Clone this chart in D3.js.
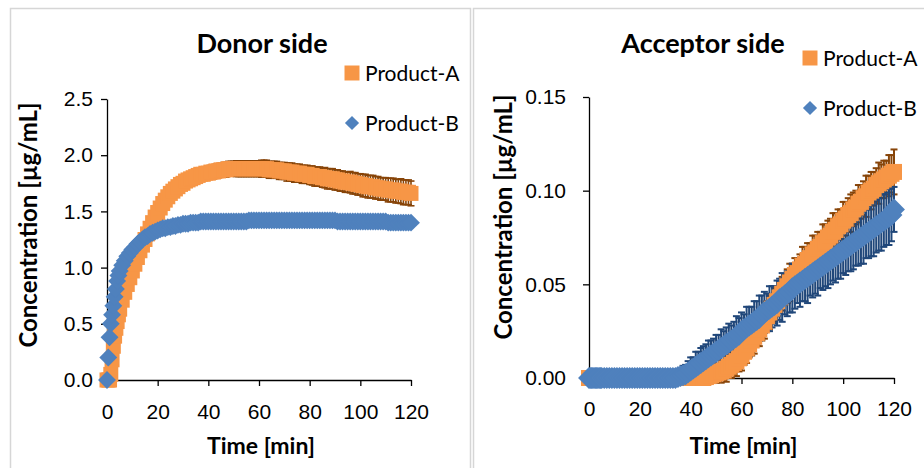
<!DOCTYPE html>
<html>
<head>
<meta charset="utf-8">
<script src="https://cdn.jsdelivr.net/npm/d3@7"></script>
<style>
body{margin:0;background:#fff;}
svg{font-family:Lato,"DejaVu Sans",sans-serif;display:block;}
.tick text{font-size:21px;fill:#000;}
.tick line,.domain{stroke:#000;stroke-width:1.3;}
</style>
</head>
<body>
<div class="c_chart"></div>
<script>

/*DATA
------------------------------------------------------
*/
const times = [0,0.5,1,1.5,2,2.5,3,3.5,4,4.5,5,
	6,7,8,9,10,11,12,13,14,15,
	16,17,18,19,20,21,22,23,24,25,
	26,27,28,29,30,31,32,33,34,35,
	36,37,38,39,40,41,42,43,44,45,
	46,47,48,49,50,51,52,53,54,55,
	56,57,58,59,60,61,62,63,64,65,
	66,67,68,69,70,71,72,73,74,75,
	76,77,78,79,80,81,82,83,84,85,
	86,87,88,89,90,91,92,93,94,95,
	96,97,98,99,100,101,102,103,104,105,
	106,107,108,109,110,111,112,113,114,115,
	116,117,118,119,120];

const seriesNames = ["Product-A","Product-B"];
const timeTicks = [0,20,40,60,80,100,120];
const donorTicks = [0,0.5,1,1.5,2,2.5];
const acceptorTicks = [0,0.05,0.1,0.15];

//Donor side, Product-A
const donorA = [0,0,0,0.05,0.18,0.30,0.39,0.46,0.52,0.58,0.63,
	0.71,0.78,0.85,0.91,0.97,1.03,1.09,1.15,1.20,1.25,
	1.30,1.35,1.40,1.45,1.49,1.53,1.57,1.60,1.63,1.66,
	1.68,1.70,1.72,1.74,1.75,1.77,1.78,1.79,1.80,1.81,
	1.82,1.83,1.83,1.84,1.84,1.85,1.85,1.86,1.86,1.87,
	1.87,1.87,1.88,1.88,1.88,1.88,1.88,1.88,1.88,1.88,
	1.88,1.88,1.88,1.88,1.88,1.88,1.88,1.88,1.87,1.87,
	1.87,1.87,1.86,1.86,1.86,1.85,1.85,1.85,1.84,1.84,
	1.84,1.83,1.83,1.83,1.82,1.82,1.81,1.81,1.81,1.80,
	1.80,1.79,1.79,1.79,1.78,1.78,1.77,1.77,1.76,1.76,
	1.76,1.75,1.75,1.74,1.74,1.73,1.73,1.72,1.72,1.72,
	1.71,1.71,1.70,1.70,1.70,1.69,1.69,1.69,1.68,1.68,
	1.68,1.67,1.67,1.67,1.66];
const donorAErr = [0.02,0.02,0.02,0.02,0.02,0.02,0.02,0.02,0.02,0.02,0.02,
	0.03,0.03,0.03,0.03,0.03,0.03,0.03,0.03,0.03,0.03,
	0.03,0.03,0.03,0.03,0.03,0.04,0.04,0.04,0.04,0.04,
	0.045,0.045,0.045,0.045,0.045,0.05,0.05,0.05,0.05,0.05,
	0.055,0.055,0.055,0.055,0.055,0.06,0.06,0.06,0.06,0.06,
	0.065,0.065,0.065,0.065,0.065,0.07,0.07,0.07,0.07,0.07,
	0.07,0.07,0.07,0.07,0.07,0.075,0.075,0.075,0.075,0.075,
	0.075,0.075,0.075,0.075,0.075,0.08,0.08,0.08,0.08,0.08,
	0.08,0.08,0.08,0.08,0.08,0.085,0.085,0.085,0.085,0.085,
	0.09,0.09,0.09,0.09,0.09,0.09,0.09,0.09,0.09,0.09,
	0.095,0.095,0.095,0.095,0.095,0.1,0.1,0.1,0.1,0.1,
	0.1,0.1,0.1,0.1,0.1,0.105,0.105,0.105,0.105,0.105,
	0.11,0.11,0.11,0.11,0.11];

//Donor side, Product-B
const donorB = [0,0.20,0.38,0.50,0.58,0.66,0.74,0.81,0.88,0.93,0.97,
	1.02,1.06,1.10,1.13,1.16,1.18,1.21,1.23,1.25,1.27,
	1.28,1.30,1.31,1.32,1.33,1.34,1.35,1.35,1.36,1.36,
	1.37,1.37,1.38,1.38,1.39,1.39,1.39,1.40,1.40,1.40,
	1.40,1.41,1.41,1.41,1.41,1.41,1.41,1.41,1.41,1.41,
	1.41,1.41,1.41,1.41,1.41,1.41,1.41,1.41,1.41,1.41,
	1.42,1.42,1.42,1.42,1.42,1.42,1.42,1.42,1.42,1.42,
	1.42,1.42,1.42,1.42,1.42,1.42,1.42,1.42,1.42,1.42,
	1.42,1.42,1.42,1.42,1.42,1.42,1.42,1.42,1.42,1.42,
	1.42,1.42,1.42,1.42,1.42,1.41,1.41,1.41,1.41,1.41,
	1.41,1.41,1.41,1.41,1.41,1.41,1.41,1.41,1.41,1.41,
	1.41,1.41,1.41,1.41,1.41,1.40,1.40,1.40,1.40,1.40,
	1.40,1.40,1.40,1.40,1.40];
const donorBErr = [0.03,0.03,0.03,0.03,0.03,0.03,0.03,0.03,0.03,0.03,0.03,
	0.03,0.03,0.03,0.03,0.03,0.03,0.03,0.03,0.03,0.03,
	0.03,0.03,0.03,0.03,0.03,0.03,0.03,0.03,0.03,0.03,
	0.03,0.03,0.03,0.03,0.03,0.03,0.03,0.03,0.03,0.03,
	0.02,0.02,0.02,0.02,0.02,0.02,0.02,0.02,0.02,0.02,
	0.02,0.02,0.02,0.02,0.02,0.02,0.02,0.02,0.02,0.02,
	0.02,0.02,0.02,0.02,0.02,0.02,0.02,0.02,0.02,0.02,
	0.02,0.02,0.02,0.02,0.02,0.02,0.02,0.02,0.02,0.02,
	0.02,0.02,0.02,0.02,0.02,0.02,0.02,0.02,0.02,0.02,
	0.02,0.02,0.02,0.02,0.02,0.02,0.02,0.02,0.02,0.02,
	0.02,0.02,0.02,0.02,0.02,0.02,0.02,0.02,0.02,0.02,
	0.02,0.02,0.02,0.02,0.02,0.02,0.02,0.02,0.02,0.02,
	0.02,0.02,0.02,0.02,0.02];

//Acceptor side, Product-A
const acceptorA = [0,0,0,0,0,0,0,0,0,0,0,
	0,0,0,0,0,0,0,0,0,0,
	0,0,0,0,0,0,0,0,0,0,
	0,0,0,0,0,0,0,0,0,0,
	0,0,0,0,0,0,0,0,0,0,
	0.0005,0.001,0.0015,0.002,0.0025,0.003,0.0035,0.004,0.005,0.006,
	0.007,0.008,0.009,0.0105,0.012,0.014,0.016,0.018,0.020,0.022,
	0.024,0.026,0.028,0.030,0.033,0.035,0.037,0.039,0.041,0.043,
	0.045,0.047,0.049,0.051,0.053,0.055,0.056,0.058,0.060,0.061,
	0.063,0.064,0.066,0.067,0.069,0.070,0.072,0.073,0.075,0.076,
	0.078,0.079,0.081,0.082,0.084,0.085,0.087,0.088,0.090,0.091,
	0.093,0.094,0.096,0.097,0.099,0.100,0.101,0.103,0.104,0.105,
	0.106,0.107,0.108,0.109,0.110];
const acceptorAErr = [0,0,0,0,0,0,0,0,0,0,0,
	0,0,0,0,0,0,0,0,0,0,
	0,0,0,0,0,0,0,0,0,0,
	0,0,0,0,0,0,0,0,0,0,
	0,0,0,0,0,0,0,0,0,0,
	0.003,0.003,0.004,0.004,0.005,0.004,0.006,0.005,0.007,0.006,
	0.007,0.006,0.008,0.007,0.008,0.007,0.008,0.007,0.008,0.009,
	0.007,0.009,0.008,0.009,0.008,0.009,0.007,0.009,0.008,0.008,
	0.009,0.008,0.009,0.010,0.008,0.009,0.008,0.008,0.010,0.009,
	0.009,0.008,0.010,0.009,0.009,0.008,0.010,0.009,0.009,0.009,
	0.010,0.009,0.009,0.008,0.010,0.009,0.009,0.010,0.009,0.009,
	0.010,0.009,0.009,0.011,0.009,0.010,0.009,0.009,0.011,0.009,
	0.010,0.009,0.011,0.010,0.012];

//Acceptor side, Product-B
const acceptorB = [0,0,0,0,0,0,0,0,0,0,0,
	0,0,0,0,0,0,0,0,0,0,
	0,0,0,0,0,0,0,0,0,0,
	0,0,0,0,0,0,0,0,0,
	0.0005,0.001,0.0015,0.002,0.003,0.004,0.005,0.006,0.007,0.008,
	0.009,0.010,0.011,0.012,0.013,0.014,0.015,0.016,0.017,0.018,
	0.019,0.020,0.021,0.022,0.023,0.025,0.026,0.027,0.028,0.029,
	0.030,0.031,0.032,0.034,0.035,0.036,0.037,0.038,0.039,0.040,
	0.042,0.043,0.044,0.045,0.046,0.048,0.049,0.050,0.051,0.052,
	0.053,0.054,0.055,0.056,0.057,0.058,0.059,0.060,0.061,0.062,
	0.063,0.064,0.065,0.066,0.067,0.068,0.069,0.070,0.071,0.072,
	0.073,0.074,0.075,0.076,0.077,0.078,0.079,0.080,0.081,0.082,
	0.083,0.084,0.085,0.086,0.087,0.090];
const acceptorBErr = [0,0,0,0,0,0,0,0,0,0,0,
	0,0,0,0,0,0,0,0,0,0,
	0,0,0,0,0,0,0,0,0,0,
	0,0,0,0,0,0,0,0,0,
	0.004,0.004,0.005,0.005,0.006,0.007,0.006,0.008,0.007,0.008,
	0.008,0.008,0.009,0.008,0.008,0.009,0.008,0.010,0.008,0.009,
	0.010,0.008,0.009,0.011,0.009,0.010,0.008,0.011,0.010,0.009,
	0.011,0.010,0.012,0.010,0.011,0.009,0.012,0.011,0.010,0.012,
	0.011,0.013,0.010,0.012,0.011,0.013,0.012,0.010,0.013,0.011,
	0.012,0.014,0.011,0.013,0.012,0.014,0.011,0.013,0.012,0.014,
	0.013,0.012,0.014,0.013,0.014,0.012,0.014,0.013,0.014,0.014,
	0.013,0.014,0.014,0.015,0.013,0.014,0.014,0.015,0.014,0.014,
	0.015,0.014,0.014,0.015,0.014,0.012];


/*SVG
------------------------------------------------------
*/
const width = 924;
const height = 468;

const colA = "#F79646", colAErr = "#874408";
const colB = "#4F81BD", colBErr = "#20477A";

let svg = d3.select(".c_chart")
	.append("svg")
	.attr("width", width)
	.attr("height", height);

//cadres gris des deux graphiques
svg.append("rect")
	.attr("x", 10.5).attr("y", 8.5)
	.attr("width", 460).attr("height", 480)
	.attr("fill", "none").attr("stroke", "#d6d6d6").attr("stroke-width", 1.5);
svg.append("rect")
	.attr("x", 473.5).attr("y", 8.5)
	.attr("width", 470).attr("height", 480)
	.attr("fill", "none").attr("stroke", "#d6d6d6").attr("stroke-width", 1.5);


/*PANEL
------------------------------------------------------
*/
function drawPanel(p){
	let g = svg.append("g");

	let x = d3.scaleLinear().domain([0, 120]).range([p.x0, p.x1]);
	let y = d3.scaleLinear().domain([0, p.yMax]).range([p.yBottom, p.yTop]);

	let squareSym = d3.symbol().type(d3.symbolSquare).size(p.sqSize);
	let diamondSym = d3.symbol().type(d3.symbolSquare).size(p.diaSize);

	//axes
	g.append("g")
		.attr("transform", `translate(0,${p.yBottom})`)
		.call(d3.axisBottom(x).tickValues(timeTicks).tickSize(6).tickSizeOuter(0).tickPadding(p.xPad));
	g.append("g")
		.attr("transform", `translate(${p.x0},0)`)
		.call(d3.axisLeft(y).tickValues(p.yTicks).tickFormat(d3.format(p.fmt)).tickSize(6).tickSizeOuter(0).tickPadding(p.yPad));

	//barres d'erreur : toutes d'abord, puis les marqueurs
	p.series.forEach(s => {
		let eb = g.append("g").attr("stroke", s.errCol).attr("stroke-width", p.errW);
		times.forEach((t, i) => {
			let e = s.err[i];
			if (!e) return;
			let cx = x(t), y1 = y(s.values[i] - e), y2 = y(s.values[i] + e);
			eb.append("line").attr("x1", cx).attr("x2", cx).attr("y1", y1).attr("y2", y2);
			eb.append("line").attr("x1", cx - 3.5).attr("x2", cx + 3.5).attr("y1", y1).attr("y2", y1);
			eb.append("line").attr("x1", cx - 3.5).attr("x2", cx + 3.5).attr("y1", y2).attr("y2", y2);
		});
	});

	p.series.forEach(s => {
		g.append("g").selectAll("path")
			.data(times)
			.enter()
			.append("path")
			.attr("d", s.diamond ? diamondSym : squareSym)
			.attr("transform", (t, i) => `translate(${x(t)},${y(s.values[i])})` + (s.diamond ? " rotate(45)" : ""))
			.attr("fill", s.col);
	});

	//titres
	g.append("text")
		.attr("x", p.titleX).attr("y", 53)
		.attr("text-anchor", "middle")
		.attr("font-size", 27).attr("font-weight", "bold")
		.text(p.title);
	g.append("text")
		.attr("x", (p.x0 + p.x1) / 2 + 2).attr("y", 454)
		.attr("text-anchor", "middle")
		.attr("font-size", 23).attr("font-weight", "bold")
		.text("Time [min]");
	g.append("text")
		.attr("transform", `translate(${p.labelX},${p.labelY}) rotate(-90)`)
		.attr("text-anchor", "middle")
		.attr("font-size", 24).attr("font-weight", "bold")
		.text("Concentration [µg/mL]");

	//légende
	let lg = g.append("g");
	lg.append("path")
		.attr("d", d3.symbol().type(d3.symbolSquare).size(225))
		.attr("transform", `translate(${p.legX},${p.legY})`)
		.attr("fill", colA);
	lg.append("path")
		.attr("d", d3.symbol().type(d3.symbolSquare).size(100))
		.attr("transform", `translate(${p.legX},${p.legY + 50}) rotate(45)`)
		.attr("fill", colB);
	seriesNames.forEach((n, i) => {
		lg.append("text")
			.attr("x", p.legX + 13).attr("y", p.legY + 50 * i + 7.5)
			.attr("font-size", 21)
			.text(n);
	});
}

drawPanel({
	x0: 107, x1: 411, yBottom: 380, yTop: 99, yMax: 2.5,
	yTicks: donorTicks, fmt: ".1f", xPad: 18, yPad: 8,
	sqSize: 225, diaSize: 160, errW: 1.6,
	title: "Donor side", titleX: 262,
	labelX: 37, labelY: 225,
	legX: 352, legY: 73,
	series: [
		{values: donorA, err: donorAErr, col: colA, errCol: colAErr, diamond: false},
		{values: donorB, err: donorBErr, col: colB, errCol: colBErr, diamond: true}
	]
});

drawPanel({
	x0: 589, x1: 894, yBottom: 378, yTop: 97, yMax: 0.15,
	yTicks: acceptorTicks, fmt: ".2f", xPad: 17, yPad: 17,
	sqSize: 256, diaSize: 240, errW: 2,
	title: "Acceptor side", titleX: 703,
	labelX: 512, labelY: 217,
	legX: 810, legY: 58,
	series: [
		{values: acceptorA, err: acceptorAErr, col: colA, errCol: colAErr, diamond: false},
		{values: acceptorB, err: acceptorBErr, col: colB, errCol: colBErr, diamond: true}
	]
});

</script>
</body>
</html>
